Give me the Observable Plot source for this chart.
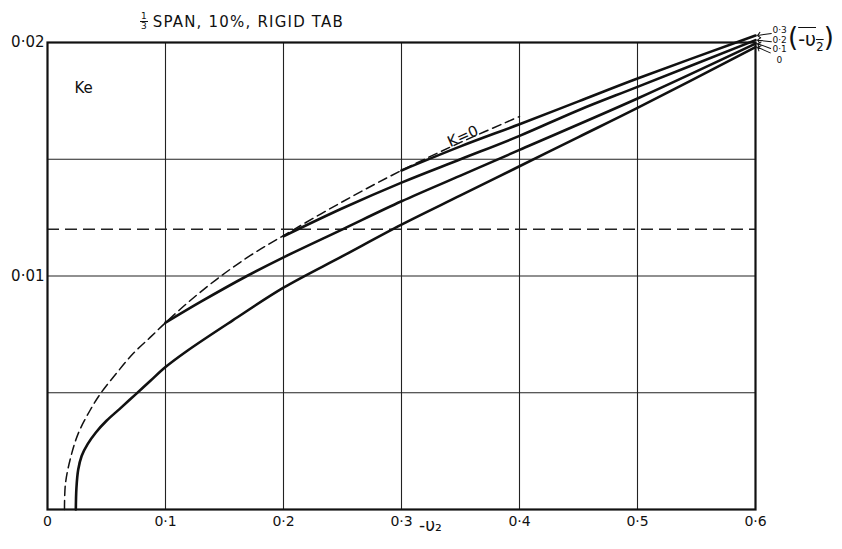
<!DOCTYPE html>
<html>
<head>
<meta charset="utf-8">
<script src="https://cdn.jsdelivr.net/npm/d3@7"></script>
<script src="https://cdn.jsdelivr.net/npm/@observablehq/plot@0.6"></script>
<style>
  html, body { margin: 0; padding: 0; background: #fff; }
  #wrap { position: relative; width: 842px; height: 549px; font-family: "DejaVu Sans", sans-serif; color: #111; }
  #title { position: absolute; left: 140px; top: 12px; font-size: 15px; letter-spacing: 1.2px; white-space: nowrap; display: flex; align-items: flex-end; }
  .frac { display: inline-flex; flex-direction: column; align-items: center; font-size: 9px; line-height: 9px; margin-right: 5px; letter-spacing: 0; }
  .frac .num { border-bottom: 1px solid #111; padding: 0 1px; }
  #keyTitle { position: absolute; left: 788px; top: 22px; font-size: 26px; white-space: nowrap; line-height: 30px; }
  #keyTitle .bar { text-decoration: overline; font-size: 19px; }
  #keyTitle sub { font-size: 12px; }
</style>
</head>
<body>
<div id="wrap">
  <div id="chart"></div>
  <div id="title"><span class="frac"><span class="num">1</span><span>3</span></span><span>SPAN, 10%, RIGID TAB</span></div>
  <div id="keyTitle">(<span class="bar">-υ<sub>2</sub></span>)</div>
</div>
<script>
// Axis ticks and grid
const xTicks = [0, 0.1, 0.2, 0.3, 0.4, 0.5, 0.6];
const yTicks = [0.01, 0.02];
const gridX = [0.1, 0.2, 0.3, 0.4, 0.5];
const gridY = [0.005, 0.01, 0.015];
const refLevel = [0.012];

// Ke against -v2, one curve per value of -v2 bar
const seriesLabels = ["0·3", "0·2", "0·1", "0"];

const nu0X = [0.024, 0.0245, 0.026, 0.029, 0.034, 0.041, 0.05, 0.061, 0.074, 0.087, 0.1, 0.1185, 0.157, 0.2, 0.25, 0.3, 0.35, 0.4, 0.45, 0.5, 0.6];
const nu0Y = [0, 0.0009, 0.0017, 0.0023, 0.0028, 0.0033, 0.0038, 0.0043, 0.0049, 0.0055, 0.0061, 0.0068, 0.0081, 0.0095, 0.01085, 0.0122, 0.01345, 0.0147, 0.01595, 0.0172, 0.0198];

const nu1X = [0.1, 0.13, 0.169, 0.2, 0.25, 0.3, 0.35, 0.4, 0.5, 0.6];
const nu1Y = [0.0080, 0.0089, 0.0100, 0.0108, 0.0120, 0.0132, 0.0143, 0.0154, 0.0176, 0.01995];

const nu2X = [0.2, 0.25, 0.3, 0.35, 0.4, 0.45, 0.5, 0.6];
const nu2Y = [0.0117, 0.0129, 0.0140, 0.0150, 0.0160, 0.0171, 0.0181, 0.0201];

const nu3X = [0.3, 0.35, 0.4, 0.45, 0.5, 0.6];
const nu3Y = [0.01452, 0.01555, 0.0165, 0.01748, 0.01846, 0.0203];

// K = 0 envelope (dashed)
const k0X = [0.0144, 0.0152, 0.0195, 0.026, 0.036, 0.045, 0.059, 0.073, 0.087, 0.1, 0.121, 0.1465, 0.172, 0.2, 0.25, 0.3, 0.35, 0.4];
const k0Y = [0, 0.0011, 0.0022, 0.00325, 0.00424, 0.00497, 0.00587, 0.0067, 0.00737, 0.0080, 0.00895, 0.00998, 0.01088, 0.01173, 0.01318, 0.01452, 0.01572, 0.01683];

const toPts = (xs, ys) => xs.map((x, i) => ({x, y: ys[i]}));
const curves = [toPts(nu3X, nu3Y), toPts(nu2X, nu2Y), toPts(nu1X, nu1Y), toPts(nu0X, nu0Y)];
const k0 = toPts(k0X, k0Y);

const ends = curves.map((c, i) => ({...c[c.length - 1], label: seriesLabels[i]}));
const arrowRotate = [262, 276, 290, 294];
const labelDx = [17, 17, 17, 21];
const labelDy = [-5, 0, 5, 13];

const dot = (s) => s.replace(".", "·");

const chart = Plot.plot({
  width: 842,
  height: 549,
  marginLeft: 47,
  marginRight: 87,
  marginTop: 42,
  marginBottom: 40,
  x: {domain: [0, 0.6]},
  y: {domain: [0, 0.02]},
  style: {fontFamily: "DejaVu Sans, sans-serif", color: "#111", background: "#fff"},
  marks: [
    Plot.ruleX(gridX, {stroke: "#222", strokeWidth: 1.1}),
    Plot.ruleY(gridY, {stroke: "#222", strokeWidth: 1.1}),
    Plot.ruleY(refLevel, {stroke: "#222", strokeWidth: 1.5, strokeDasharray: "12,6"}),
    Plot.line(k0, {x: "x", y: "y", stroke: "#111", strokeWidth: 1.5, strokeDasharray: "9,5", curve: "catmull-rom"}),
    ...curves.map(c => Plot.line(c, {x: "x", y: "y", stroke: "#111", strokeWidth: 2.6, curve: "catmull-rom"})),
    Plot.frame({stroke: "#111", strokeWidth: 2.2}),
    Plot.vector(ends, {x: "x", y: "y", rotate: (d, i) => arrowRotate[i], length: 14, anchor: "end", shape: "arrow", dx: 2, stroke: "#111", strokeWidth: 1}),
    ...ends.map((e, i) => Plot.text([e], {x: "x", y: "y", text: "label", textAnchor: "start", dx: labelDx[i], dy: labelDy[i], fontSize: 9, fill: "#111"})),
    Plot.text(["K=0"], {x: [0.352], y: [0.01598], rotate: -24, fontSize: 15, fill: "#111"}),
    Plot.text(["Ke"], {frameAnchor: "top-left", dx: 27, dy: 40, fontSize: 15, fill: "#111"}),
    Plot.text(["-υ₂"], {frameAnchor: "bottom", dx: 29, dy: 21, fontSize: 17, fill: "#111"}),
    Plot.axisX(xTicks, {tickSize: 0, tickPadding: 7, fontSize: 14, label: null, tickFormat: d => d === 0 ? "0" : dot(d.toFixed(1))}),
    Plot.axisY(yTicks, {tickSize: 0, tickPadding: 3, fontSize: 15, label: null, tickFormat: d => dot(d.toFixed(2))})
  ]
});

document.getElementById("chart").append(chart);
</script>
</body>
</html>
